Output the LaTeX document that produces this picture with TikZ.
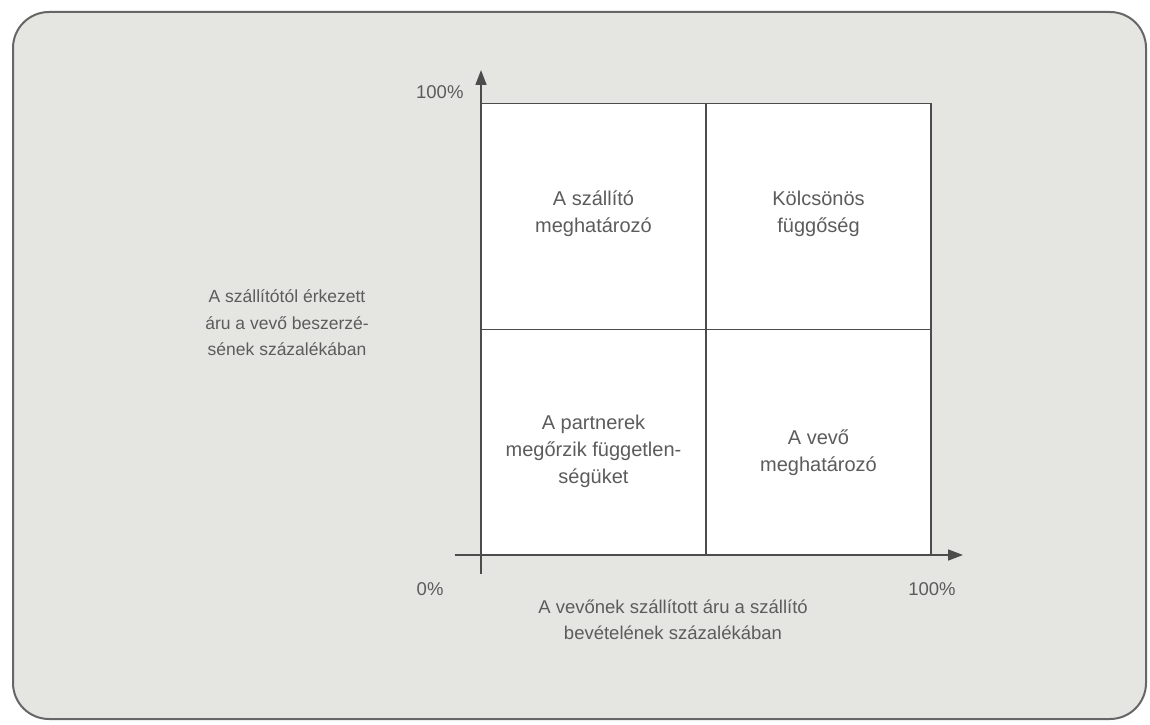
\documentclass[tikz,border=0pt]{standalone}
\usepackage{fontspec}
\setmainfont{Liberation Sans}
\usepackage{tikz}
\usetikzlibrary{calc,positioning,arrows.meta,shapes}

\definecolor{paper}{RGB}{229,229,226}
\definecolor{ink}{RGB}{92,92,92}

\begin{document}
\begin{tikzpicture}[x=1pt,y=1pt]

	\tikzstyle{cell} = [rectangle, draw=black!70, line width=1.6pt, fill=white,
    		minimum width=225pt, minimum height=226pt]
	\tikzstyle{plaintext} = [draw=none, fill=none, align=center, text=ink,
    		font=\fontsize{18.5}{26.5}\selectfont]
	\tikzstyle{celltext} = [plaintext, font=\fontsize{20}{27}\selectfont]
	\tikzstyle{axis} = [draw=black!70, line width=1.6pt, -{Triangle[length=15pt,width=11pt]}]

    \useasboundingbox (0,0) rectangle (1150,724);
    \draw [draw=black!60, line width=2pt, fill=paper, rounded corners=36pt] (13,5) rectangle (1146,712);

    % Place nodes
    \node [cell] at (593.5, 507.5) (supplier) {};
    \node [cell] at (818.5, 507.5) (mutual) {};
    \node [cell] at (593.5, 281.5) (independent) {};
    \node [cell] at (818.5, 281.5) (buyer) {};

    \node [celltext] at (593.5, 510) (supplier_text) {A szállító\\meghatározó};
    \node [celltext] at (818.5, 510) (mutual_text) {Kölcsönös\\függőség};
    \node [celltext] at (593.5, 273) (independent_text) {A partnerek\\megőrzik független-\\ségüket};
    \node [celltext] at (818.5, 271) (buyer_text) {A vevő\\meghatározó};

    \coordinate (ybottom) at (481, 150);
    \coordinate (ytop) at (481, 654);
    \coordinate (xleft) at (455, 169);
    \coordinate (xright) at (963, 169);

    \node [plaintext, anchor=east] at (467, 632) (ymax) {100\%};
    \node [plaintext, anchor=east] at (447, 135) (zero) {0\%};
    \node [plaintext] at (932, 135) (xmax) {100\%};
    \node [plaintext, font=\fontsize{17.5}{26.5}\selectfont] at (287, 401) (ylabel) {A szállítótól érkezett\\áru a vevő beszerzé-\\sének százalékában};
    \node [plaintext] at (673, 104) (xlabel) {A vevőnek szállított áru a szállító\\bevételének százalékában};

    % Draw edges
    \path [axis] (ybottom) -- (ytop);
    \path [axis] (xleft) -- (xright);
\end{tikzpicture}
\end{document}
